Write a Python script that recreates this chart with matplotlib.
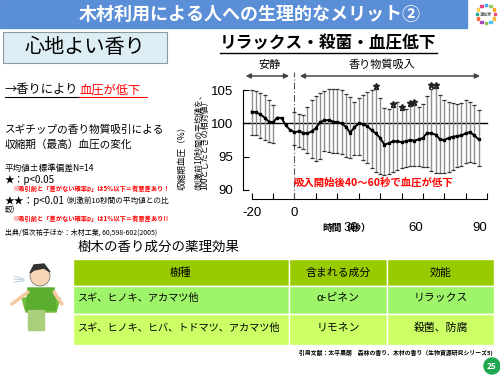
import math
import matplotlib
matplotlib.use("Agg")
import matplotlib.pyplot as plt
from matplotlib.patches import Rectangle, Circle, Polygon

plt.rcParams['font.family'] = ['Noto Sans CJK JP', 'DejaVu Sans']

# 平均値（2秒ごと, -20〜86秒）
t_mean = [-20, -18, -16, -14, -12, -10, -8, -6, -4, -2,
          0, 2, 4, 6, 8, 10, 12, 14, 16, 18,
          20, 22, 24, 26, 28, 30, 32, 34, 36, 38,
          40, 42, 44, 46, 48, 50, 52, 54, 56, 58,
          60, 62, 64, 66, 68, 70, 72, 74, 76, 78,
          80, 82, 84, 86]
bp_mean = [101.8, 101.7, 101.4, 100.9, 100.3, 100.2, 100.9, 100.8, 99.7, 99.0,
           98.7, 98.8, 98.6, 98.5, 98.8, 99.3, 100.2, 100.5, 100.5, 100.3,
           100.2, 100.0, 99.5, 98.6, 99.4, 100.0, 99.9, 99.6, 99.0, 98.5,
           97.8, 96.8, 97.0, 97.3, 97.3, 97.2, 97.3, 97.5, 97.4, 97.6,
           97.8, 98.6, 98.5, 98.3, 97.6, 97.5, 97.8, 98.0, 98.1, 98.2,
           98.5, 98.7, 98.2, 97.6]

# 標準偏差バー（上端・下端）
t_pre = [-20, -18, -16, -14, -12, -10]
hi_pre = [105.1, 104.9, 104.6, 104.3, 103.6, 102.8]
lo_pre = [98.3, 98.2, 97.8, 97.5, 97.2, 97.0]

t_post = [0, 2, 4, 6, 8, 10, 12, 14, 16, 18,
          20, 22, 24, 26, 28, 30, 32, 34, 36, 38,
          40, 42, 44, 46, 48, 50, 52, 54, 56, 58,
          60, 62, 64, 66, 68, 70, 72, 74, 76, 78,
          80, 82, 84, 86]
hi_post = [101.8, 101.5, 101.3, 102.5, 103.6, 104.2, 104.6, 104.9, 105.2, 105.3,
           105.2, 105.0, 104.5, 104.0, 103.3, 103.8, 104.3, 104.8, 105.1, 105.2,
           103.8, 102.3, 102.2, 102.5, 103.2, 102.0, 102.2, 102.6, 102.8, 102.5,
           103.0, 104.1, 105.3, 105.4, 104.3, 103.5, 103.2, 103.1, 103.0, 103.1,
           103.6, 103.3, 102.8, 102.0]
lo_post = [96.7, 96.5, 96.2, 95.5, 94.8, 94.3, 94.6, 95.8, 95.7, 95.6,
           95.5, 95.4, 95.0, 94.7, 95.3, 95.2, 94.5, 94.0, 93.3, 92.7,
           92.3, 92.2, 92.4, 92.6, 92.9, 93.2, 93.4, 93.5, 93.5, 93.5,
           93.4, 93.4, 92.8, 92.5, 92.5, 92.5, 92.6, 93.0, 93.4, 93.6,
           94.0, 94.2, 94.0, 93.5]

star_t = [38, 46, 50, 54, 56, 64, 66]

y_ticks = [90, 95, 100, 105]
x_ticks = [-20, -10, 0, 10, 20, 30, 40, 50, 60, 70, 80, 90]
x_labels_upper = [-20, 0]
x_labels_lower = [30, 60, 90]

table_header = ['樹種', '含まれる成分', '効能']
table_rows = [['スギ、ヒノキ、アカマツ他', 'α-ピネン', 'リラックス'],
              ['スギ、ヒノキ、ヒバ、トドマツ、アカマツ他', 'リモネン', '殺菌、防腐']]

fig = plt.figure(figsize=(5, 3.75), dpi=100)
bg = fig.add_axes([0, 0, 1, 1])
bg.set_xlim(0, 500)
bg.set_ylim(375, 0)
bg.axis('off')

# タイトルバー
bg.add_patch(Rectangle((0, 0), 467, 28, color='#5a8ed6'))
bg.text(250, 14, '木材利用による人への生理的なメリット②', color='white',
        fontsize=13, fontweight='bold', ha='center', va='center')
# ロゴ
logo_cols = ['#e94e77', '#f7b733', '#4fc3f7', '#8bc34a', '#ab47bc', '#ff7043',
             '#26a69a', '#ffd54f', '#ec407a', '#42a5f5', '#9ccc65', '#ffa726']
for i, c in enumerate(logo_cols):
    a = 2 * math.pi * i / len(logo_cols)
    bg.add_patch(Rectangle((486 + 9 * math.cos(a) - 1.2, 14 + 9 * math.sin(a) - 1.2),
                           2.4, 2.4, color=c))
bg.text(486, 14.5, '高知家', fontsize=3, ha='center', va='center', color='#333')

# 心地よい香り
bg.add_patch(Rectangle((3, 32), 164, 31, fc='#dcedf3', ec='#8a9aa0', lw=0.8))
bg.text(85, 47.5, '心地よい香り', fontsize=14.5, ha='center', va='center')

bg.text(5, 90, '→香りにより', fontsize=8.8, va='center')
bg.text(79, 90, '血圧が低下', fontsize=8.8, va='center', color='#ff0000')
bg.plot([5, 79], [97, 97], color='black', lw=0.8)
bg.plot([79, 147], [97, 97], color='#ff0000', lw=0.8)

bg.text(5, 130, 'スギチップの香り物質吸引による', fontsize=7.7, va='center')
bg.text(5, 145, '収縮期（最高）血圧の変化', fontsize=7.7, va='center')

bg.text(5, 168, '平均値±標準偏差N=14', fontsize=6.2, va='center')
bg.text(5, 180, '★：p<0.05', fontsize=7, va='center')
bg.text(12, 188.5, '※吸引前と「差がない確率p」は5%以下＝有意差あり！', fontsize=4.5,
        va='center', color='#ff0000', fontweight='bold')
bg.text(5, 201, '★★：p<0.01', fontsize=7, va='center')
bg.text(62, 201, '（刺激前10秒間の平均値との比', fontsize=5.5, va='center')
bg.text(5, 210, '較）', fontsize=5.5, va='center')
bg.text(12, 219, '※吸引前と「差がない確率p」は1%以下＝有意差あり!!', fontsize=4.5,
        va='center', color='#ff0000', fontweight='bold')
bg.text(5, 233, '出典/恒次祐子ほか：木材工業, 60,598-602(2005)', fontsize=5, va='center')

# グラフ見出し
bg.text(328, 43, 'リラックス・殺菌・血圧低下', fontsize=12, fontweight='bold',
        ha='center', va='center')
bg.plot([220, 437], [53, 53], color='black', lw=1)

# 縦軸ラベル
bg.text(182, 190, '収縮期血圧（%）', rotation=90, fontsize=6.2, ha='center', va='bottom')
bg.text(194, 190, '（刺激前10秒間の平均値を、', rotation=90, fontsize=5.8, ha='center', va='bottom')
bg.text(205, 190, '100としたときの相対値）', rotation=90, fontsize=5.8, ha='center', va='bottom')

# グラフ本体
ax = fig.add_axes([0.4858, 0.4693, 0.497, 0.3774])
ax.patch.set_alpha(0)
ax.set_xlim(-24.1, 92)
ax.set_ylim(88.56, 110)
for s in ['top', 'right']:
    ax.spines[s].set_visible(False)
ax.spines['left'].set_bounds(90, 105)
ax.spines['bottom'].set_bounds(-20, 90)
ax.set_yticks(y_ticks)
ax.set_yticklabels([str(v) for v in y_ticks], fontfamily='Liberation Sans', fontsize=9.5)
ax.set_xticks(x_ticks)
ax.set_xticklabels([str(v) if v in x_labels_upper else '' for v in x_ticks],
                   fontfamily='Liberation Sans', fontsize=9.5)
ax.tick_params(axis='x', direction='in', length=4, pad=6)
ax.tick_params(axis='y', direction='in', length=4, pad=7)

for v in x_labels_lower:
    ax.text(v - 3.5, -0.205, str(v), transform=ax.get_xaxis_transform(),
            fontfamily='Liberation Sans', fontsize=9.5, ha='center', va='center')
ax.text(24.5, -0.205, '時間（秒）', transform=ax.get_xaxis_transform(),
        fontsize=7, fontweight='bold', ha='center', va='center')

ax.plot([-24.1, 90], [100, 100], color='black', lw=1, clip_on=False)
ax.plot([0, 0], [88.56, 107.8], color='#555555', lw=0.8, ls=(0, (6, 2, 1, 2)), clip_on=False)

for tt, hh, ll in [(t_pre, hi_pre, lo_pre), (t_post, hi_post, lo_post)]:
    ax.vlines(tt, ll, hh, color='#8f8f8f', lw=1.0)
    ax.plot(tt, hh, ls='none', marker='_', ms=3, mew=0.9, color='#333333')
    ax.plot(tt, ll, ls='none', marker='_', ms=3, mew=0.9, color='#333333')

ax.plot(t_mean, bp_mean, color='black', lw=1.4, marker='s', ms=1.8)

star_hi = [hi_post[t_post.index(t)] for t in star_t]
ax.plot(star_t, [h + 0.5 for h in star_hi], ls='none', marker='*', ms=5, color='#222222')

ax.annotate('', xy=(-24.1, 107.2), xytext=(-1.2, 107.2), annotation_clip=False,
            arrowprops=dict(arrowstyle='<|-|>', color='#444444', lw=1.1, mutation_scale=7))
ax.annotate('', xy=(1.2, 107.2), xytext=(88, 107.2), annotation_clip=False,
            arrowprops=dict(arrowstyle='<|-|>', color='#444444', lw=1.1, mutation_scale=7))
ax.text(-11.5, 108.9, '安静', fontsize=8, ha='center', va='center')
ax.text(41, 108.9, '香り物質吸入', fontsize=8, ha='center', va='center')

ax.text(36.8, 91, '吸入開始後40～60秒で血圧が低下', fontsize=7.5, fontweight='bold',
        color='#ff0000', ha='center', va='center')

# 表
bg.text(78, 247, '樹木の香り成分の薬理効果', fontsize=9.7, va='center')
col_x = [73, 289, 387, 494]
row_y = [259, 286, 314, 345]
row_cols = ['#99cc00', '#9ff56a', '#ccff66']
for r in range(3):
    for c in range(3):
        bg.add_patch(Rectangle((col_x[c], row_y[r]), col_x[c + 1] - col_x[c],
                               row_y[r + 1] - row_y[r], fc=row_cols[r], ec='white', lw=1))
for c, h in enumerate(table_header):
    bg.text((col_x[c] + col_x[c + 1]) / 2, (row_y[0] + row_y[1]) / 2, h,
            fontsize=7.8, ha='center', va='center')
for r, row in enumerate(table_rows):
    yc = (row_y[r + 1] + row_y[r + 2]) / 2 - 2
    bg.text(78, yc, row[0], fontsize=7.3, va='center')
    bg.text((col_x[1] + col_x[2]) / 2, yc, row[1], fontsize=7.8, ha='center', va='center')
    bg.text((col_x[2] + col_x[3]) / 2, yc, row[2], fontsize=7.8, ha='center', va='center')

bg.text(493, 353, '引用文献：太平晨朗　森林の香り、木材の香り（生物資源研究シリーズ5)',
        fontsize=4.2, fontweight='bold', ha='right', va='center')

bg.add_patch(Circle((492, 366), 8, color='#1fa84f'))
bg.text(492, 366.5, '25', fontsize=6, fontweight='bold', color='white', ha='center', va='center')

# 人物イラスト
bg.add_patch(Polygon([[22, 298], [60, 298], [56, 312], [26, 312]], color='#6fbf3a'))
bg.add_patch(Polygon([[28, 288], [54, 288], [56, 310], [26, 310]], color='#5aad2e'))
bg.plot([12, 28], [304, 292], color='#f4c9a0', lw=2.5, solid_capstyle='round')
bg.plot([54, 62], [292, 304], color='#f4c9a0', lw=2.5, solid_capstyle='round')
bg.add_patch(Rectangle((28, 310), 16, 20, color='#a9cf7d'))
bg.add_patch(Circle((40, 276), 10, fc='#f8d5b5', ec='#666666', lw=0.5))
bg.add_patch(Polygon([[30, 273], [34, 265], [44, 264], [50, 272], [44, 268], [34, 270]],
                     color='#333333'))
for dy in [-3, 0, 3]:
    bg.plot([14, 24], [279 + dy, 280 + dy * 0.3], color='#b0c4d8', lw=0.6)

fig.savefig('out.png', dpi=100)
